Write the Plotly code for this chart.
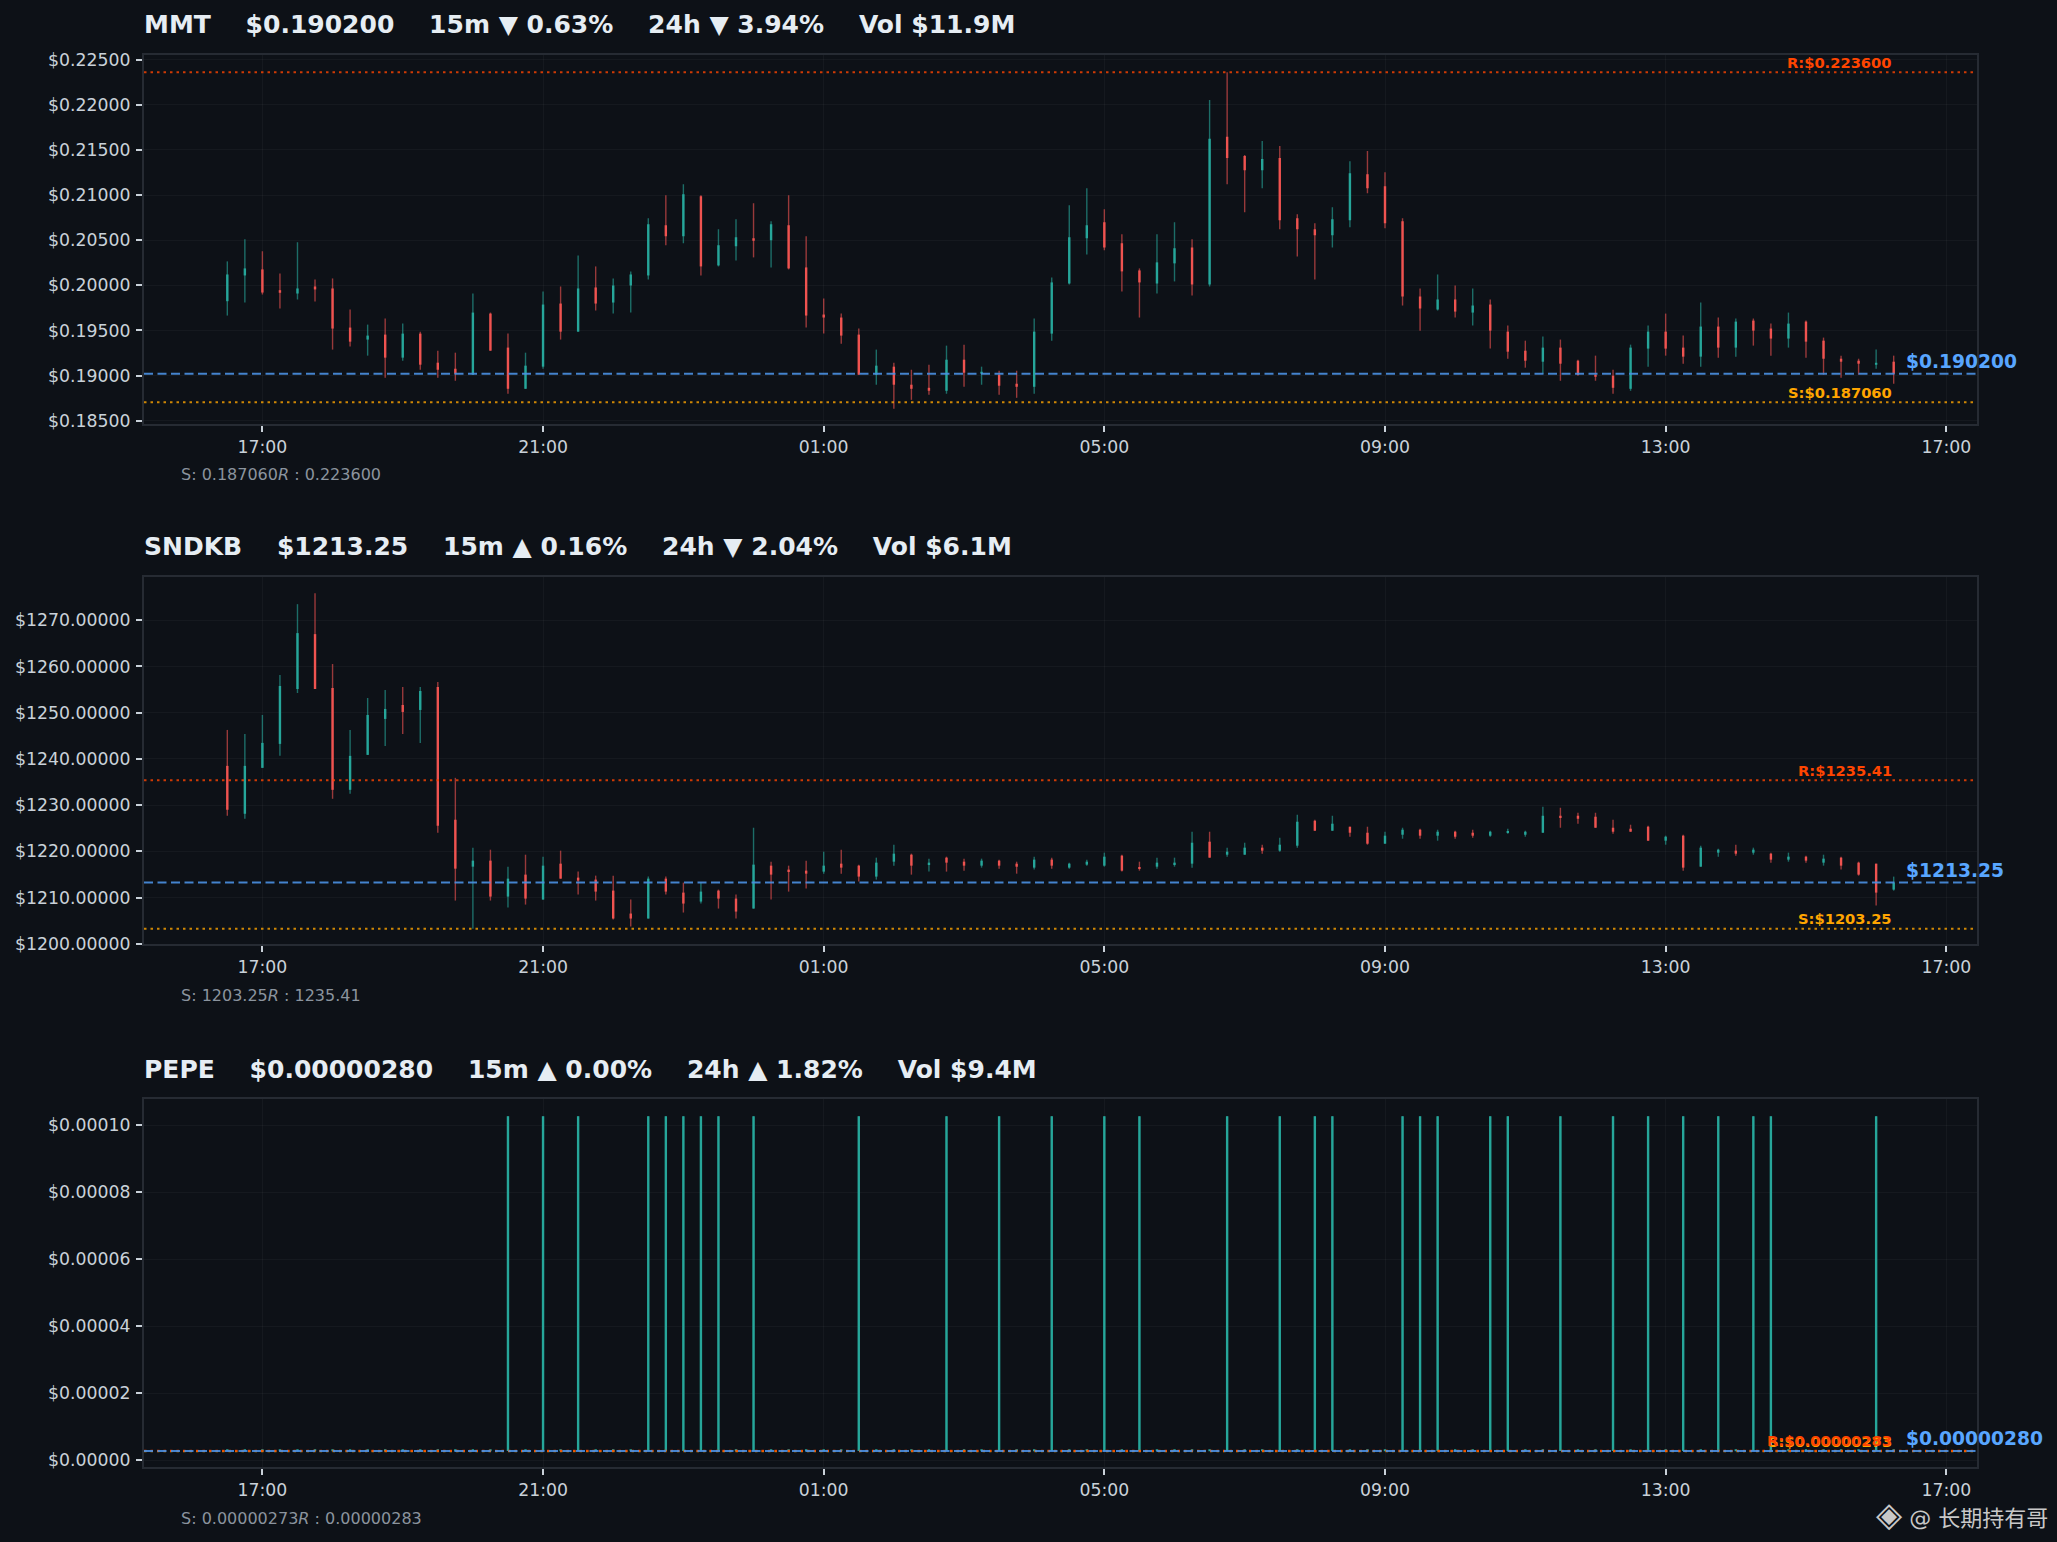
import pandas as pd
import plotly.graph_objects as go

# ---------------- data ----------------
times = pd.date_range("2025-11-05 16:30", periods=96, freq="15min")

MMT_open = [0.19824,0.20109,0.20176,0.19946,0.19909,0.19987,0.19965,0.19532,0.19399,0.19454,
0.19199,0.19465,0.19143,0.19076,0.19010,0.19687,0.19310,0.18854,0.19099,0.19798,
0.19487,0.19976,0.19809,0.19998,0.20109,0.20665,0.20542,0.20987,0.20220,0.20432,
0.20520,0.20498,0.20665,0.20198,0.19676,0.19643,0.19454,0.19010,0.19099,0.18899,
0.18865,0.18832,0.19176,0.19025,0.19010,0.18910,0.18876,0.19465,0.20020,0.20520,
0.20698,0.20465,0.20165,0.20020,0.20243,0.20420,0.20009,0.21646,0.21431,0.21275,
0.21409,0.20742,0.20620,0.20554,0.20720,0.21231,0.21098,0.20709,0.19876,0.19732,
0.19843,0.19698,0.19787,0.19487,0.19276,0.19154,0.19310,0.19165,0.19010,0.18999,
0.18854,0.19299,0.19487,0.19310,0.19210,0.19543,0.19310,0.19609,0.19521,0.19410,
0.19598,0.19387,0.19187,0.19165,0.19121,0.19154]
MMT_high = [0.20265,0.20509,0.20376,0.20132,0.20476,0.20065,0.20076,0.19732,0.19565,0.19632,
0.19576,0.19487,0.19276,0.19254,0.19909,0.19698,0.19465,0.19254,0.19932,0.19987,
0.20331,0.20209,0.20076,0.20154,0.20742,0.20998,0.21120,0.20998,0.20620,0.20731,
0.20909,0.20709,0.20998,0.20542,0.19854,0.19687,0.19521,0.19288,0.19143,0.19065,
0.19121,0.19332,0.19343,0.19099,0.19054,0.19054,0.19632,0.20087,0.20887,0.21075,
0.20842,0.20565,0.20187,0.20565,0.20698,0.20509,0.22053,0.22360,0.21442,0.21598,
0.21542,0.20787,0.20687,0.20865,0.21375,0.21486,0.21253,0.20742,0.19965,0.20120,
0.19998,0.19965,0.19843,0.19554,0.19387,0.19432,0.19399,0.19176,0.19221,0.19065,
0.19343,0.19554,0.19687,0.19443,0.19809,0.19643,0.19632,0.19632,0.19576,0.19698,
0.19609,0.19421,0.19221,0.19187,0.19288,0.19221]
MMT_low = [0.19665,0.19809,0.19898,0.19743,0.19843,0.19821,0.19288,0.19321,0.19221,0.18977,
0.19165,0.19065,0.18977,0.18943,0.19010,0.19276,0.18799,0.18854,0.19076,0.19399,
0.19487,0.19721,0.19687,0.19698,0.20065,0.20443,0.20465,0.20109,0.20209,0.20276,
0.20309,0.20198,0.20176,0.19532,0.19465,0.19354,0.19010,0.18899,0.18632,0.18732,
0.18788,0.18799,0.18876,0.18899,0.18788,0.18754,0.18799,0.19387,0.20009,0.20342,
0.20387,0.19932,0.19643,0.19909,0.20043,0.19887,0.19987,0.21120,0.20809,0.21075,
0.20620,0.20320,0.20065,0.20420,0.20642,0.21020,0.20631,0.19776,0.19498,0.19721,
0.19643,0.19554,0.19299,0.19187,0.19088,0.19021,0.18943,0.18999,0.18943,0.18799,
0.18832,0.19099,0.19221,0.19132,0.19099,0.19199,0.19210,0.19332,0.19221,0.19310,
0.19199,0.19010,0.18977,0.19010,0.19076,0.18910]
MMT_close = [0.20120,0.20187,0.19920,0.19924,0.19965,0.19954,0.19521,0.19376,0.19443,0.19199,
0.19465,0.19121,0.19065,0.19021,0.19698,0.19276,0.18854,0.19110,0.19787,0.19487,
0.19965,0.19798,0.19998,0.20120,0.20676,0.20542,0.21009,0.20209,0.20443,0.20531,
0.20502,0.20676,0.20187,0.19665,0.19643,0.19443,0.19010,0.19110,0.18899,0.18854,
0.18843,0.19176,0.19032,0.19036,0.18888,0.18876,0.19487,0.20032,0.20531,0.20665,
0.20420,0.20154,0.20032,0.20254,0.20409,0.20009,0.21623,0.21409,0.21275,0.21398,
0.20720,0.20620,0.20554,0.20731,0.21242,0.21075,0.20687,0.19876,0.19743,0.19843,
0.19709,0.19776,0.19498,0.19265,0.19165,0.19310,0.19132,0.19010,0.18988,0.18865,
0.19310,0.19487,0.19299,0.19210,0.19543,0.19310,0.19598,0.19498,0.19410,0.19576,
0.19376,0.19187,0.19154,0.19132,0.19139,0.19020]

SNDKB_open = [1238.50,1228.14,1238.07,1243.25,1255.12,1266.99,1255.34,1233.32,1240.88,1248.65,
1251.67,1250.59,1255.56,1226.85,1216.70,1218.00,1210.23,1214.98,1209.58,1217.35,
1214.33,1213.90,1211.52,1206.56,1205.48,1214.11,1211.09,1209.15,1211.52,1209.80,
1207.64,1216.92,1216.06,1215.84,1215.63,1217.35,1216.92,1214.55,1217.78,1219.29,
1217.14,1218.65,1217.78,1216.92,1218.00,1217.35,1216.49,1218.22,1216.49,1217.14,
1216.92,1219.08,1216.49,1216.70,1217.14,1217.35,1222.10,1219.29,1219.29,1220.81,
1220.16,1221.24,1226.63,1224.47,1225.34,1224.04,1221.67,1223.61,1224.69,1223.40,
1224.26,1224.04,1223.40,1224.04,1223.61,1224.04,1227.71,1227.71,1227.50,1225.12,
1224.91,1225.34,1222.32,1223.40,1216.70,1219.73,1220.16,1219.73,1219.51,1218.22,
1218.86,1217.57,1218.65,1217.57,1217.35,1211.74]
SNDKB_high = [1246.27,1245.41,1249.51,1258.14,1273.47,1275.84,1260.52,1246.27,1253.18,1254.91,
1255.56,1255.56,1256.63,1235.91,1220.81,1220.37,1216.70,1219.29,1218.86,1220.16,
1215.63,1214.76,1214.76,1209.58,1214.55,1214.55,1213.25,1213.25,1211.74,1210.66,
1225.12,1217.78,1216.92,1218.00,1219.94,1220.37,1217.14,1218.65,1221.45,1219.51,
1218.43,1218.86,1218.43,1218.43,1218.22,1217.78,1218.86,1218.65,1217.57,1218.22,
1219.73,1219.29,1217.78,1218.65,1218.65,1224.26,1224.26,1220.81,1221.88,1221.45,
1222.96,1227.93,1226.85,1227.71,1225.34,1225.34,1224.26,1225.12,1224.91,1224.69,
1224.47,1224.69,1224.47,1224.91,1224.47,1229.65,1229.44,1228.36,1228.36,1226.85,
1225.77,1225.55,1223.40,1223.61,1221.24,1220.59,1221.45,1220.81,1219.73,1219.73,
1219.08,1219.29,1218.86,1217.78,1217.35,1214.55]
SNDKB_low = [1227.71,1227.06,1238.07,1240.66,1254.26,1255.12,1231.38,1232.46,1240.88,1242.82,
1245.41,1243.47,1224.04,1209.37,1203.25,1209.37,1207.85,1208.50,1209.58,1214.11,
1210.66,1209.37,1205.27,1203.75,1205.48,1210.66,1206.78,1208.72,1207.64,1205.48,
1207.64,1209.58,1211.31,1211.96,1215.19,1215.19,1213.47,1213.90,1216.92,1214.98,
1215.63,1215.63,1215.84,1216.49,1216.27,1215.19,1216.06,1216.27,1216.27,1216.92,
1216.70,1215.63,1215.84,1216.27,1216.70,1216.49,1218.65,1218.86,1219.29,1219.51,
1219.94,1220.81,1224.47,1224.47,1223.18,1221.45,1221.67,1222.75,1222.75,1222.32,
1222.75,1222.96,1223.18,1223.83,1223.18,1224.04,1225.12,1225.99,1225.12,1223.83,
1224.26,1222.32,1221.45,1215.84,1216.70,1218.86,1219.08,1219.29,1217.57,1217.78,
1217.57,1216.92,1216.06,1214.76,1208.29,1211.52]
SNDKB_close = [1229.01,1238.50,1243.47,1255.77,1267.21,1255.12,1233.32,1240.66,1249.51,1250.81,
1250.16,1254.69,1225.55,1216.27,1218.00,1210.23,1214.11,1209.80,1216.92,1214.11,
1213.68,1211.31,1205.48,1205.48,1214.11,1211.31,1208.72,1211.31,1209.80,1206.99,
1217.14,1214.98,1215.63,1215.19,1216.92,1216.49,1214.55,1217.57,1219.51,1216.92,
1217.57,1217.57,1216.92,1218.00,1216.92,1216.70,1218.22,1216.92,1217.35,1217.78,
1218.86,1215.84,1216.27,1217.57,1217.57,1221.88,1218.65,1219.94,1220.81,1220.16,
1221.45,1226.42,1224.47,1225.99,1224.04,1221.67,1223.40,1224.69,1223.40,1224.26,
1223.18,1223.40,1224.26,1224.26,1224.26,1227.71,1227.28,1227.06,1225.12,1224.26,
1224.26,1222.32,1223.18,1216.49,1220.81,1220.37,1219.51,1220.37,1218.22,1218.86,
1218.00,1218.43,1216.92,1214.98,1211.09,1213.25]

b, s = 2.80e-06, 1.027e-04      # PEPE normal price / glitch print
hb, lb = 2.81e-06, 2.79e-06
PEPE_open = [b,b,b,b,b,b,b,b,b,b, b,b,b,b,b,b,b,b,b,b, b,b,b,b,b,b,b,b,b,b,
             b,b,b,b,b,b,b,b,b,b, b,b,b,b,b,b,b,b,b,b, b,b,b,b,b,b,b,b,b,b,
             b,b,b,b,b,b,b,b,b,b, b,b,b,b,b,b,b,b,b,b, b,b,b,b,b,b,b,b,b,b,
             b,b,b,b,b,b]
PEPE_close = [b,b,b,b,b,b,b,b,b,b, b,b,b,b,b,b,s,b,s,b, s,b,b,b,s,s,s,s,s,b,
              s,b,b,b,b,b,s,b,b,b, b,s,b,b,s,b,b,s,b,b, s,b,s,b,b,b,b,s,b,b,
              s,b,s,s,b,b,b,s,s,s, b,b,s,s,b,b,s,b,b,s, b,s,b,s,b,s,b,s,s,b,
              b,b,b,b,s,b]
PEPE_high = [hb,hb,hb,hb,hb,hb,hb,hb,hb,hb, hb,hb,hb,hb,hb,hb,s,hb,s,hb, s,hb,hb,hb,s,s,s,s,s,hb,
             s,hb,hb,hb,hb,hb,s,hb,hb,hb, hb,s,hb,hb,s,hb,hb,s,hb,hb, s,hb,s,hb,hb,hb,hb,s,hb,hb,
             s,hb,s,s,hb,hb,hb,s,s,s, hb,hb,s,s,hb,hb,s,hb,hb,s, hb,s,hb,s,hb,s,hb,s,s,hb,
             hb,hb,hb,hb,s,hb]
PEPE_low = [lb,lb,lb,lb,lb,lb,lb,lb,lb,lb, lb,lb,lb,lb,lb,lb,lb,lb,lb,lb, lb,lb,lb,lb,lb,lb,lb,lb,lb,lb,
            lb,lb,lb,lb,lb,lb,lb,lb,lb,lb, lb,lb,lb,lb,lb,lb,lb,lb,lb,lb, lb,lb,lb,lb,lb,lb,lb,lb,lb,lb,
            lb,lb,lb,lb,lb,lb,lb,lb,lb,lb, lb,lb,lb,lb,lb,lb,lb,lb,lb,lb, lb,lb,lb,lb,lb,lb,lb,lb,lb,lb,
            lb,lb,lb,lb,lb,lb]

symbols = ["MMT", "SNDKB", "PEPE"]
titles = [
    "MMT    $0.190200    15m ▼ 0.63%    24h ▼ 3.94%    Vol $11.9M",
    "SNDKB    $1213.25    15m ▲ 0.16%    24h ▼ 2.04%    Vol $6.1M",
    "PEPE    $0.00000280    15m ▲ 0.00%    24h ▲ 1.82%    Vol $9.4M",
]
current = [0.190200, 1213.25, 0.00000280]
current_lbl = ["$0.190200", "$1213.25", "$0.00000280"]
support = [0.187060, 1203.25, 0.00000273]
support_lbl = ["S:$0.187060", "S:$1203.25", "S:$0.00000273"]
resist = [0.223600, 1235.41, 0.00000283]
resist_lbl = ["R:$0.223600", "R:$1235.41", "R:$0.00000283"]
sr_text = ["S: 0.187060<i>R</i> : 0.223600", "S: 1203.25<i>R</i> : 1235.41",
           "S: 0.00000273<i>R</i> : 0.00000283"]
ohlc = [(MMT_open, MMT_high, MMT_low, MMT_close),
        (SNDKB_open, SNDKB_high, SNDKB_low, SNDKB_close),
        (PEPE_open, PEPE_high, PEPE_low, PEPE_close)]

# ---------------- style / layout ----------------
W = 2057
BG = "#0d1117"
GREEN, RED = "#26a69a", "#ef5350"
GREEN_W, RED_W = "rgba(38,166,154,0.62)", "rgba(239,83,80,0.62)"
FONT = "DejaVu Sans, Noto Sans CJK SC, sans-serif"


def yp(px):
    """vertical pixel position (from top) -> paper fraction"""
    return 1 - (px - 3.25) / 1526.4


xdom = [144 / W, 1977 / W]
ypix = [(53, 422), (575, 942), (1097, 1465)]
yranges = [[0.18465, 0.22553], [1199.95, 1279.35], [-0.0000021, 0.0001078]]
ydticks = [0.005, 10, 0.00002]
xrange_ = ["2025-11-05 15:18:45", "2025-11-06 17:26:15"]
MS_PER_PX = 15 * 60 * 1000 / 17.545
BODY_W = 2.4 * MS_PER_PX
WICK_W = 1.4 * MS_PER_PX

fig = go.Figure()
shapes, annos = [], []

for k in range(3):
    o, h, l, c = ohlc[k]
    ax = "" if k == 0 else str(k + 1)
    xa, ya = "x" + ax, "y" + ax
    top, bot = ypix[k]
    span = yranges[k][1] - yranges[k][0]
    unit_per_px = span / (bot - top)
    up = [ci >= oi for oi, ci in zip(o, c)]
    # wicks
    fig.add_trace(go.Bar(
        x=times, base=l, y=[hi - lo for hi, lo in zip(h, l)], width=WICK_W,
        marker=dict(color=[GREEN_W if u else RED_W for u in up], line=dict(width=0)),
        xaxis=xa, yaxis=ya, hoverinfo="skip"))
    # bodies
    fig.add_trace(go.Bar(
        x=times, base=[min(oi, ci) for oi, ci in zip(o, c)],
        y=[max(abs(ci - oi), 1.2 * unit_per_px) for oi, ci in zip(o, c)], width=BODY_W,
        marker=dict(color=[GREEN if u else RED for u in up], line=dict(width=0)),
        xaxis=xa, yaxis=ya, hoverinfo="skip"))

    ydom = [yp(bot), yp(top)]
    axis_common = dict(showline=True, linecolor="#262b33", linewidth=2, mirror=True,
                       showgrid=True, gridcolor="rgba(255,255,255,0.035)", gridwidth=1,
                       zeroline=False, ticks="outside", ticklen=6, tickwidth=1.5,
                       tickcolor="#c9d1d9",
                       tickfont=dict(family=FONT, size=17.3, color="#c9d1d9"))
    fig.layout["xaxis" + ax] = dict(
        domain=xdom, anchor=ya, type="date", range=xrange_,
        tick0="2025-11-05 17:00", dtick=4 * 3600 * 1000, tickformat="%H:%M", **axis_common)
    fig.layout["yaxis" + ax] = dict(
        domain=ydom, anchor=xa, range=yranges[k], dtick=ydticks[k], tick0=0,
        tickprefix="$", tickformat=".5f", ticklabelstandoff=2, **axis_common)

    # reference lines
    shapes.append(dict(type="line", xref=xa + " domain", x0=0, x1=1, yref=ya,
                       y0=support[k], y1=support[k],
                       line=dict(color="rgba(255,165,0,0.8)", width=2, dash="2.5px,4px")))
    shapes.append(dict(type="line", xref=xa + " domain", x0=0, x1=1, yref=ya,
                       y0=resist[k], y1=resist[k],
                       line=dict(color="rgba(255,69,0,0.8)", width=2, dash="2.5px,4px")))
    shapes.append(dict(type="line", xref=xa + " domain", x0=0, x1=1, yref=ya,
                       y0=current[k], y1=current[k],
                       line=dict(color="rgba(74,144,226,0.9)", width=2, dash="9px,4.5px")))

    # labels
    annos.append(dict(xref=xa, x=times[-1], yref=ya, y=support[k], xanchor="right",
                      yanchor="middle", yshift=10, showarrow=False,
                      text="<b>" + support_lbl[k] + "</b>",
                      font=dict(family=FONT, size=14.7, color="#ffa500")))
    annos.append(dict(xref=xa, x=times[-1], yref=ya, y=resist[k], xanchor="right",
                      yanchor="middle", yshift=10, showarrow=False,
                      text="<b>" + resist_lbl[k] + "</b>",
                      font=dict(family=FONT, size=14.7, color="#ff4500")))
    annos.append(dict(xref=xa + " domain", x=(1904 - 144) / (1977 - 144), yref=ya, y=current[k],
                      xanchor="left", yanchor="middle", yshift=12, showarrow=False,
                      text="<b>" + current_lbl[k] + "</b>",
                      font=dict(family=FONT, size=18.7, color="#58a6ff")))
    annos.append(dict(xref="paper", x=142 / W, yref="paper", y=yp(top - 30),
                      xanchor="left", yanchor="middle", showarrow=False,
                      text="<b>" + titles[k].replace(" ", "\u00a0") + "</b>",
                      font=dict(family=FONT, size=25, color="#e6edf3")))
    annos.append(dict(xref="paper", x=179 / W, yref="paper", y=yp(bot + 51),
                      xanchor="left", yanchor="middle", showarrow=False,
                      text=sr_text[k], font=dict(family=FONT, size=16, color="#8b949e")))

annos.append(dict(xref="paper", x=2050 / W, yref="paper", y=yp(1512),
                  xanchor="right", yanchor="middle", showarrow=False,
                  text='<span style="font-size:34px">◈</span> @ 长期持有哥',
                  font=dict(family=FONT, size=22, color="#c8c8c8")))

fig.update_layout(
    autosize=True,
    margin=dict(l=0, r=0, t=0, b=0),
    paper_bgcolor=BG, plot_bgcolor=BG,
    barmode="overlay", showlegend=False, hovermode=False,
    shapes=shapes, annotations=annos,
    font=dict(family=FONT, color="#c9d1d9"),
)

fig.write_html(
    "out.html",
    config={"displayModeBar": False, "responsive": True},
    default_width="100vw", default_height="100vh",
    post_script=("document.documentElement.style.margin='0';"
                 "document.body.style.margin='0';document.body.style.overflow='hidden';"
                 "var gd=document.getElementById('{plot_id}');"
                 "Plotly.Plots.resize(gd);"),
)
